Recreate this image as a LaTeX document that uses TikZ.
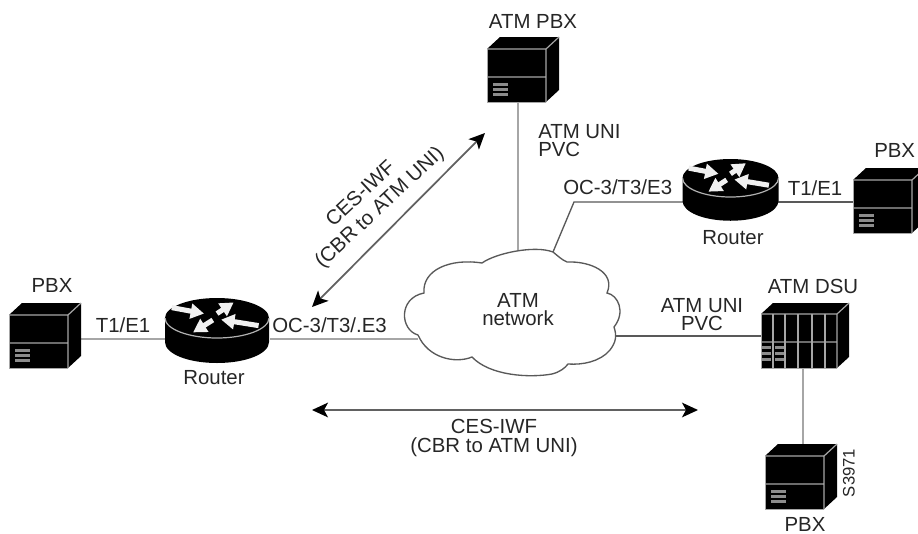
\documentclass[tikz,border=0pt]{standalone}
\usepackage{fontspec}
\setmainfont{Liberation Sans}
\usetikzlibrary{arrows.meta}
\tikzset{
  x=0.75pt,y=-0.75pt,
  lab/.style={font=\fontsize{15.3}{15.3}\selectfont,inner sep=0pt,align=center,text=black!85},
  thick gray line/.style={draw=black!35,line width=2.1pt},
  thin line/.style={draw=black!65,line width=1pt},
  dbl/.style={draw=black!62,line width=1.3pt,{Stealth[length=12pt,width=11pt,inset=3pt,color=black]}-{Stealth[length=12pt,width=11pt,inset=3pt,color=black]}},
  edge line/.style={draw=black!35,line width=0.9pt},
  pics/pbx/.style={code={
    \fill[black] (0,0) -- (13,-12) -- (72,-12) -- (72,41) -- (59,53) -- (0,53) -- cycle;
    \draw[edge line] (0,0) -- (59,0) -- (59,53) (59,0) -- (72,-12) (0,28) -- (59,28);
    \foreach \v in {34,39,44}{\fill[black!45] (6,\v) rectangle (21,{\v+3});}
    \draw[black!35,line width=.5pt] (0,53) -- (59,53) (0,0) -- (0,53);
  }},
  rarrow/.style={draw=black!6,line width=3.8pt,-{Triangle[length=10pt,width=11pt,color=black!6]}},
}
\newcommand{\routerat}[4]{% cx, cy, rx, ry
  \begin{scope}[shift={(#1,#2)},x=#3*0.75pt,y=#4*0.75pt,y={(0,-#4*0.75pt)}]
    \fill[black] (-1,0) -- (-1,1.2) .. controls (-1,1.8) and (-.55,2.25) .. (0,2.25) .. controls (.55,2.25) and (1,1.8) .. (1,1.2) -- (1,0)
       .. controls (1,-.55) and (.55,-1) .. (0,-1) .. controls (-.55,-1) and (-1,-.55) .. (-1,0) -- cycle;
    \draw[black!30,line width=.9pt] (-1,0) .. controls (-1,.55) and (-.55,1) .. (0,1) .. controls (.55,1) and (1,.55) .. (1,0);
    \draw[rarrow] (-.87,-.52) -- (-.25,-.22);
    \draw[rarrow] (0,-.22) -- (.32,-.78);
    \draw[rarrow] (.8,.38) -- (.08,.08);
    \draw[rarrow] (-.08,.1) -- (-.46,.72);
  \end{scope}}
\begin{document}
\begin{tikzpicture}
\useasboundingbox (0,0) rectangle (918,533);
\clip (0,0) rectangle (918,533);
\fill[white] (0,0) rectangle (918,533);
% ports
\coordinate (pbxLport) at (69,339);
\coordinate (rLwest) at (165,339);
\coordinate (rLeast) at (270,339);
\coordinate (cloudW) at (418,339);
\coordinate (pbxAport) at (518,102);
\coordinate (cloudN) at (518,250);
\coordinate (cloudNE) at (553,252);
\coordinate (bend) at (574,202);
\coordinate (rRwest) at (683,202);
\coordinate (rReast) at (778,202);
\coordinate (pbxRport) at (853,202);
\coordinate (cloudE) at (613,336);
\coordinate (dsuW) at (761,336);
\coordinate (dsuS) at (803,368);
\coordinate (pbxBport) at (803,444);
\coordinate (diagA) at (312,307);
\coordinate (diagB) at (485,133);
\coordinate (horA) at (312,410);
\coordinate (horB) at (698,410);
% connectors
\draw[thick gray line] (pbxLport) -- (rLwest);
\draw[thick gray line] (rLeast) -- (cloudW);
\draw[thick gray line] (pbxAport) -- (cloudN);
\draw[thin line] (cloudNE) -- (bend) -- (rRwest);
\draw[thin line] (rReast) -- (pbxRport);
\draw[thin line] (cloudE) -- (dsuW);
\draw[thick gray line] (dsuS) -- (pbxBport);
\draw[dbl] (diagA) -- (diagB);
\draw[dbl] (horA) -- (horB);
% cloud
\draw[fill=white,draw=black!65,line width=1pt] (482,263)
  .. controls (496,253) and (535,245) .. (553,252)
  .. controls (558,256) and (562,260) .. (567,262)
  .. controls (590,261) and (616,272) .. (607,293)
  .. controls (618,295) and (626,312) .. (614,327)
  .. controls (617,336) and (616,342) .. (610,350)
  .. controls (600,362) and (582,365) .. (568,364)
  .. controls (565,368) and (560,372) .. (552,374)
  .. controls (530,378) and (490,376) .. (472,357)
  .. controls (455,364) and (428,358) .. (418,335)
  .. controls (400,330) and (398,298) .. (424,293)
  .. controls (422,270) and (450,258) .. (482,263) -- cycle;
% devices
\pic at (9,315) {pbx};
\pic at (487,49) {pbx};
\pic at (853,180) {pbx};
\pic at (765,456) {pbx};
% DSU
\fill[black] (761,314) -- (773,303) -- (849,303) -- (849,357) -- (837,368) -- (761,368) -- cycle;
\draw[edge line] (761,314) -- (837,314) -- (837,368) (837,314) -- (849,303) (761,342) -- (837,342);
\foreach \x in {773,785,798,812,825}{\draw[edge line] (\x,314) -- (\x,368);}
\foreach \x in {762,775}{\foreach \v in {346,352,358}{\fill[black!45] (\x,\v) rectangle ({\x+9},{\v+3});}}
\draw[black!35,line width=.5pt] (761,314) -- (761,368) -- (837,368);
% routers
\routerat{217}{318}{52}{20}
\routerat{730.5}{178}{48}{19}
% labels
\node[lab] (t1) at (52,285) {PBX};
\node[lab] (t2) at (123,325) {T1/E1};
\node[lab] (t3) at (214,378) {Router};
\node[lab,anchor=west] (t4) at (272,325) {OC-3/T3/.E3};
\node[lab] (t5) at (533,21) {ATM PBX};
\node[lab,anchor=west] (t6) at (538,132) {ATM UNI};
\node[lab,anchor=west] (t7) at (538,149) {PVC};
\node[lab,anchor=west] (t8) at (563,187) {OC-3/T3/E3};
\node[lab] (t9) at (733,238) {Router};
\node[lab] (t10) at (815,188) {T1/E1};
\node[lab,anchor=west] (t11) at (874,150) {PBX};
\node[lab] (t12) at (518,300) {ATM};
\node[lab] (t13) at (518,318) {network};
\node[lab] (t14) at (702,306) {ATM UNI};
\node[lab] (t15) at (702,323) {PVC};
\node[lab] (t16) at (813,286) {ATM DSU};
\node[lab] (t17) at (494,426) {CES-IWF};
\node[lab] (t18) at (494,447) {(CBR to ATM UNI)};
\node[lab,rotate=90,font=\fontsize{12.5}{12.5}\selectfont] (t19) at (849,473) {S3971};
\node[lab] (t20) at (805,524) {PBX};
\node[lab,rotate=43] (t21) at (360,193) {CES-IWF};
\node[lab,rotate=43] (t22) at (380,208) {(CBR to ATM UNI)};
\end{tikzpicture}
\end{document}
